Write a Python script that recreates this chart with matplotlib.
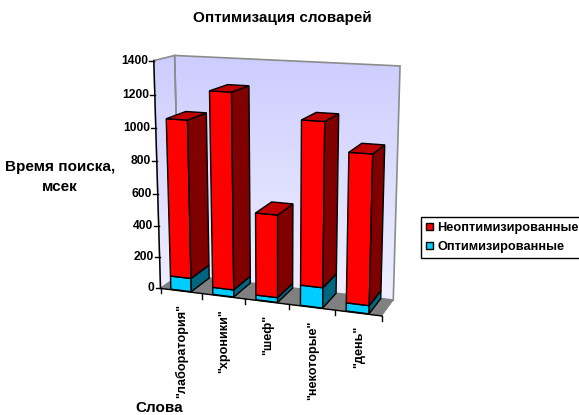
import numpy as np
import matplotlib
matplotlib.use('Agg')
import matplotlib.pyplot as plt
from matplotlib.patches import Polygon, Patch

words = ['"лаборатория"', '"хроники"', '"шеф"', '"некоторые"', '"день"']
optimized = [85, 45, 30, 125, 50]
unoptimized = [975, 1195, 507, 980, 890]
value_ticks = [0, 200, 400, 600, 800, 1000, 1200, 1400]
series_names = ['Неоптимизированные', 'Оптимизированные']

plt.rcParams['font.family'] = ['Liberation Sans', 'DejaVu Sans']
plt.rcParams['font.weight'] = 'bold'

VMAX = 1400.0
BAR_WIDTH = 0.49
BAR_FRONT, BAR_BACK = 0.03, 1.0

# camera for the 3D box: (category, value, depth) -> figure pixels
box = np.array([
    [0, 0, 0, 160.5, 287], [0, 1, 0, 153.5, 61], [1, 0, 0, 382, 317],
    [0, 1, 1, 175, 55], [1, 1, 1, 400, 66], [1, 0, 1, 393, 299], [0, 0, 1, 180, 276],
])
rows = []
for a, b, c, px, py in box:
    rows.append([a, b, c, 1, 0, 0, 0, 0, -px * a, -px * b, -px * c, -px])
    rows.append([0, 0, 0, 0, a, b, c, 1, -py * a, -py * b, -py * c, -py])
camera = np.linalg.svd(np.array(rows))[2][-1].reshape(3, 4)


def project(cat, value, depth):
    p = camera @ np.array([cat / len(words), value / VMAX, depth, 1.0])
    return p[0] / p[2], p[1] / p[2]


def face(points, color, edge='black', lw=1.0, zorder=3):
    ax.add_patch(Polygon([project(*q) for q in points], closed=True, facecolor=color,
                         edgecolor=edge, linewidth=lw, joinstyle='miter', zorder=zorder))


def draw_block(left, right, low, high, front, side, top=None):
    face([(left, low, BAR_FRONT), (right, low, BAR_FRONT), (right, high, BAR_FRONT), (left, high, BAR_FRONT)], front)
    face([(right, low, BAR_FRONT), (right, low, BAR_BACK), (right, high, BAR_BACK), (right, high, BAR_FRONT)], side)
    if top:
        face([(left, high, BAR_FRONT), (right, high, BAR_FRONT), (right, high, BAR_BACK), (left, high, BAR_BACK)], top)


fig = plt.figure(figsize=(5.79, 4.15), dpi=100)
ax = fig.add_axes([0, 0, 1, 1])
n = len(words)

# walls with the blue vertical gradient, then the floor
gradient = np.linspace(0, 1, 256).reshape(-1, 1, 1) * (np.array([240, 240, 255]) - np.array([204, 204, 255])) + np.array([204, 204, 255])
for corners in ([(0, VMAX, 1), (n, VMAX, 1), (n, 0, 1), (0, 0, 1)],
                [(0, VMAX, 0), (0, VMAX, 1), (0, 0, 1), (0, 0, 0)]):
    wall = Polygon([project(*q) for q in corners], closed=True, facecolor='none',
                   edgecolor='#8c8c8c', linewidth=1.2, zorder=1)
    ax.add_patch(wall)
    img = ax.imshow(gradient.astype(np.uint8), extent=(150, 405, 300, 50), aspect='auto', zorder=0)
    img.set_clip_path(wall)
face([(0, 0, 0), (n, 0, 0), (n, 0, 1), (0, 0, 1)], '#808080', edge='#808080', lw=0.5, zorder=2)

# stacked bars, left to right
for i in range(n):
    left = i + 0.48 - BAR_WIDTH / 2
    right = i + 0.48 + BAR_WIDTH / 2
    draw_block(left, right, 0, optimized[i], '#00CCFF', '#006680')
    total = optimized[i] + unoptimized[i]
    draw_block(left, right, optimized[i], total, '#FF0000', '#800000', '#C00000')

# value axis on the front left edge
ax.plot(*zip(project(0, 0, 0), project(0, VMAX, 0)), color='black', lw=1, zorder=4)
for v in value_ticks:
    x, y = project(0, v, 0)
    ax.plot([x - 5, x], [y, y], color='black', lw=1, zorder=4)
    ax.text(x - 6, y, str(v), ha='right', va='center', fontsize=8.7)

# category axis along the front of the floor
ax.plot(*zip(project(0, 0, 0), project(n, 0, 0)), color='black', lw=1, zorder=4)
for i in range(n + 1):
    x, y = project(i, 0, 0)
    ax.plot([x, x], [y, y + 5], color='black', lw=1, zorder=4)
for i, word in enumerate(words):
    x, y = project(i + 0.5, 0, 0)
    ax.text(x + 0.7, y + 13, word, rotation=90, ha='center', va='top', fontsize=9.1)

ax.text(282, 18, 'Оптимизация словарей', ha='center', va='center', fontsize=11)
ax.text(60, 177, 'Время поиска,\nмсек', ha='center', va='center', fontsize=11, linespacing=1.5)
ax.text(159, 408, 'Слова', ha='center', va='center', fontsize=11)

handles = [Patch(facecolor='#FF0000', edgecolor='black'), Patch(facecolor='#00CCFF', edgecolor='black')]
ax.legend(handles, series_names, loc='center left', bbox_to_anchor=(421 / 579, 1 - 237.5 / 415),
          fontsize=9.2, frameon=True, fancybox=False, framealpha=1, edgecolor='black',
          handlelength=0.5, handleheight=0.5, handletextpad=0.37, labelspacing=0.55,
          borderpad=0.4, borderaxespad=0)

ax.set_xlim(0, 579)
ax.set_ylim(415, 0)
ax.axis('off')
fig.savefig('out.png', dpi=100)
